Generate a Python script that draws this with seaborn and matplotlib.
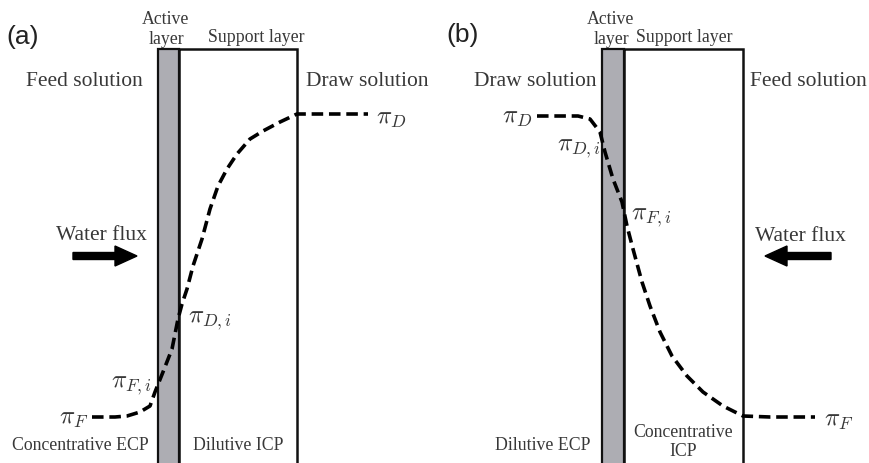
import numpy as np
import pandas as pd
import seaborn as sns
import matplotlib
matplotlib.use("Agg")
import matplotlib.pyplot as plt
from matplotlib.patches import Rectangle, FancyArrow

sns.set_theme(style="white")
plt.rcParams["mathtext.fontset"] = "cm"
plt.rcParams["font.family"] = ["Liberation Serif", "DejaVu Serif"]

# ---- data (schematic coordinates, pixel-like units, y downward) ----
curve_a_x = [92, 100, 115, 127, 140, 150, 155, 163, 172, 178, 182, 187, 193,
             202, 210, 218, 227, 237, 250, 263, 280, 297, 320, 345, 368]
curve_a_y = [418, 418, 418, 417, 413, 407, 393, 373, 350, 320, 305, 290, 267,
             240, 210, 187, 170, 155, 140, 132, 123, 115, 115, 115, 115]
curve_b_x = [537, 560, 578, 590, 600, 605, 613, 622, 627, 633, 642, 650, 660,
             672, 687, 703, 723, 743, 770, 795, 815]
curve_b_y = [117, 117, 117, 120, 133, 153, 180, 203, 227, 250, 283, 307, 333,
             357, 377, 393, 407, 417, 418, 418, 418]

panel_labels = ["(a)", "(b)"]

TXT = "#383838"

fig = plt.figure(figsize=(8.7, 4.64), dpi=100)
ax = fig.add_axes([0, 0, 1, 1])

# membranes
def membrane(ax, ax0, ax1, bx1, top=50):
    ax.add_patch(Rectangle((ax0, top), ax1 - ax0, 500, facecolor="#adadb3",
                           edgecolor="#111111", lw=1.6, zorder=1))
    ax.add_patch(Rectangle((ax1, top), bx1 - ax1, 500, facecolor="none",
                           edgecolor="#111111", lw=1.8, zorder=1))

membrane(ax, 158, 179, 297)
membrane(ax, 602, 624, 743)

df_a = pd.DataFrame({"x": curve_a_x, "y": curve_a_y})
df_b = pd.DataFrame({"x": curve_b_x, "y": curve_b_y})
for df in (df_a, df_b):
    sns.lineplot(data=df, x="x", y="y", sort=False, estimator=None, ax=ax,
                 color="black", lw=2.6, linestyle=(0, (3.2, 1.6)), zorder=3)
ax.set_xlim(0, 870)
ax.set_ylim(464, 0)
ax.axis("off")

# arrows
ax.add_patch(FancyArrow(73, 257, 64, 0, width=7, head_width=20, head_length=22,
                        length_includes_head=True, color="black", zorder=4))
ax.add_patch(FancyArrow(831, 257, -66, 0, width=7, head_width=20, head_length=22,
                        length_includes_head=True, color="black", zorder=4))

# panel labels
ax.text(6, 37, panel_labels[0], fontsize=19, family=["Liberation Sans"], color="#222222",
        ha="left", va="center")
ax.text(446, 35, panel_labels[1], fontsize=19, family=["Liberation Sans"], color="#222222",
        ha="left", va="center")

small = 12.8
big = 15.5
PI = 18
def t(x, y, s, fs, **kw):
    ax.text(x, y, s, fontsize=fs, color=TXT, ha=kw.pop("ha", "center"),
            va=kw.pop("va", "center"), **kw)

# panel a texts
t(166, 19, "Active", small)
t(166, 39, "layer", small)
t(256, 38, "Support layer", small)
t(84, 82, "Feed solution", big)
t(367, 82, "Draw solution", big)
t(101, 236, "Water flux", big)
t(80, 446, "Concentrative ECP", small)
t(238, 446, "Dilutive ICP", small)
t(376, 119, r"$\pi_D$", PI, ha="left")
t(188, 321, r"$\pi_{D,i}$", PI, ha="left")
t(152, 386, r"$\pi_{F,i}$", PI, ha="right")
t(88, 419, r"$\pi_F$", PI, ha="right")

# panel b texts
t(611, 19, "Active", small)
t(611, 39, "layer", small)
t(684, 38, "Support layer", small)
t(535, 82, "Draw solution", big)
t(808, 82, "Feed solution", big)
t(800, 237, "Water flux", big)
t(543, 446, "Dilutive ECP", small)
t(683, 433, "Concentrative", small)
t(683, 452, "ICP", small)
t(532, 118, r"$\pi_D$", PI, ha="right")
t(601, 149, r"$\pi_{D,i}$", PI, ha="right")
t(631, 218, r"$\pi_{F,i}$", PI, ha="left")
t(824, 421, r"$\pi_F$", PI, ha="left")

fig.savefig("out.png", dpi=100)
